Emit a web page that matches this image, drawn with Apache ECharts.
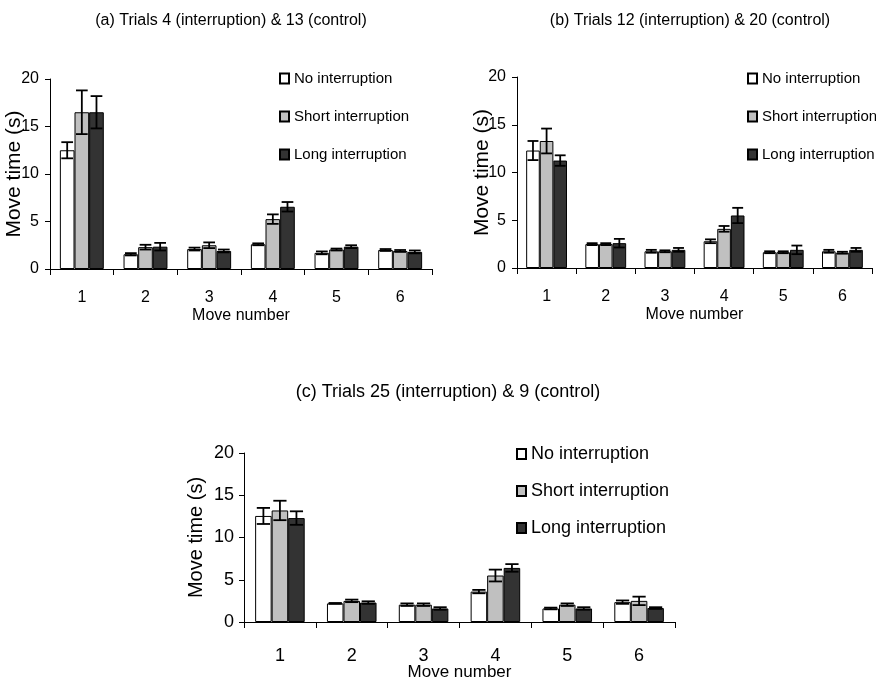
<!DOCTYPE html>
<html>
<head>
<meta charset="utf-8">
<script src="https://cdn.jsdelivr.net/npm/echarts@6/dist/echarts.min.js"></script>
<style>html,body{margin:0;padding:0;background:#fff;}#c{width:876px;height:685px;}</style>
</head>
<body>
<div id="c"></div>
<script>
const categories = ['1', '2', '3', '4', '5', '6'];
const seriesNames = ['No interruption', 'Short interruption', 'Long interruption'];
const yTicks = [0, 5, 10, 15, 20];

const titles = [
  '(a) Trials 4 (interruption) & 13 (control)',
  '(b) Trials 12 (interruption) & 20 (control)',
  '(c) Trials 25 (interruption) & 9 (control)'
];

// Panel (a)
const aNo = [12.5, 1.55, 2.1, 2.6, 1.7, 2.0];
const aNoErr = [0.85, 0.12, 0.15, 0.1, 0.15, 0.1];
const aShort = [16.5, 2.3, 2.5, 5.25, 2.05, 1.9];
const aShortErr = [2.3, 0.25, 0.3, 0.5, 0.1, 0.1];
const aLong = [16.5, 2.35, 1.9, 6.55, 2.35, 1.8];
const aLongErr = [1.7, 0.4, 0.15, 0.5, 0.15, 0.15];

// Panel (b)
const bNo = [12.3, 2.5, 1.75, 2.8, 1.65, 1.75];
const bNoErr = [1.0, 0.1, 0.15, 0.2, 0.1, 0.15];
const bShort = [13.3, 2.5, 1.75, 4.1, 1.65, 1.6];
const bShortErr = [1.3, 0.1, 0.1, 0.3, 0.1, 0.1];
const bLong = [11.25, 2.6, 1.9, 5.5, 1.9, 1.9];
const bLongErr = [0.55, 0.45, 0.2, 0.8, 0.45, 0.2];

// Panel (c)
const cNo = [12.55, 2.2, 2.05, 3.6, 1.6, 2.35];
const cNoErr = [0.95, 0.05, 0.15, 0.2, 0.1, 0.2];
const cShort = [13.2, 2.5, 2.05, 5.5, 2.05, 2.5];
const cShortErr = [1.15, 0.15, 0.15, 0.7, 0.15, 0.5];
const cLong = [12.3, 2.3, 1.6, 6.4, 1.6, 1.65];
const cLongErr = [0.8, 0.15, 0.15, 0.45, 0.15, 0.1];

const panelData = [
  [[aNo, aNoErr], [aShort, aShortErr], [aLong, aLongErr]],
  [[bNo, bNoErr], [bShort, bShortErr], [bLong, bLongErr]],
  [[cNo, cNoErr], [cShort, cShortErr], [cLong, cLongErr]]
];

const fills = ['#ffffff', '#c0c0c0', '#333333'];
const ARIAL = "'Liberation Sans',Arial,sans-serif";
const CAT_GAP = 0.31;

const layout = [
  {grid: {left: 50, top: 79, width: 382, height: 190}, fs: 16, xNameFs: 16, nameFs: 21,
   yNameGap: 25, yLabelMargin: 11, xLabelMargin: 21, xNameGap: 39, legend: {left: 274, top: 66}, legendFs: 15, legendGap: 23,
   title: {x: 231, y: 21, fs: 16}},
  {grid: {left: 517, top: 77, width: 355, height: 191}, fs: 16, xNameFs: 16, nameFs: 21,
   yNameGap: 24, yLabelMargin: 11, xLabelMargin: 21, xNameGap: 39, legend: {left: 742, top: 66}, legendFs: 15, legendGap: 23,
   title: {x: 690, y: 21, fs: 16}},
  {grid: {left: 244, top: 453, width: 431, height: 169}, fs: 18, xNameFs: 17, nameFs: 20,
   yNameGap: 38, yLabelMargin: 10, xLabelMargin: 25, xNameGap: 42, legend: {left: 511, top: 440}, legendFs: 18, legendGap: 19,
   title: {x: 448, y: 392, fs: 18}}
];

const grids = [], xAxes = [], yAxes = [], series = [], legends = [], graphics = [];

layout.forEach((L, p) => {
  grids.push(L.grid);
  xAxes.push({
    type: 'category', gridIndex: p, data: categories, boundaryGap: true,
    name: 'Move number', nameLocation: 'middle', nameGap: L.xNameGap, nameMoveOverlap: false,
    nameTextStyle: {fontFamily: ARIAL, fontSize: L.xNameFs, color: '#000'},
    axisLine: {lineStyle: {color: '#000', width: 1}},
    axisTick: {show: true, inside: false, length: 6, alignWithLabel: false, lineStyle: {color: '#000'}},
    axisLabel: {fontFamily: ARIAL, fontSize: L.fs, color: '#000', margin: L.xLabelMargin},
    splitLine: {show: false}
  });
  yAxes.push({
    type: 'value', gridIndex: p, min: yTicks[0], max: yTicks[yTicks.length - 1], interval: 5,
    name: 'Move time (s)', nameLocation: 'middle', nameGap: L.yNameGap, nameRotate: 90, nameMoveOverlap: false,
    nameTextStyle: {fontFamily: ARIAL, fontSize: L.nameFs, color: '#000'},
    axisLine: {show: true, lineStyle: {color: '#000', width: 1}},
    axisTick: {show: true, inside: false, length: 5, lineStyle: {color: '#000'}},
    axisLabel: {fontFamily: ARIAL, fontSize: L.fs, color: '#000', margin: L.yLabelMargin},
    splitLine: {show: false}
  });
  panelData[p].forEach((pair, k) => {
    series.push({
      type: 'bar', name: seriesNames[k], xAxisIndex: p, yAxisIndex: p,
      data: pair[0], barGap: '0%', barCategoryGap: (CAT_GAP * 100) + '%',
      itemStyle: {color: fills[k], borderColor: '#000', borderWidth: 1},
      emphasis: {disabled: true}, animation: false
    });
  });
  panelData[p].forEach((pair, k) => {
    series.push({
      type: 'custom', name: 'err' + p + k, xAxisIndex: p, yAxisIndex: p, z: 5,
      data: pair[0].map((v, i) => [i, v, pair[1][i]]),
      renderItem: function (params, api) {
        const i = api.value(0), v = api.value(1), e = api.value(2);
        const catW = api.size([1, 0])[0];
        const bw = catW * (1 - CAT_GAP) / 3;
        const base = api.coord([i, v]);
        const cx = base[0] + (k - 1) * bw;
        const yt = api.coord([i, v + e])[1];
        const yb = api.coord([i, v - e])[1];
        const cap = bw * 0.4;
        const st = {stroke: '#000', lineWidth: 1.8};
        return {type: 'group', children: [
          {type: 'line', shape: {x1: cx, y1: yt, x2: cx, y2: yb}, style: st},
          {type: 'line', shape: {x1: cx - cap, y1: yt, x2: cx + cap, y2: yt}, style: st},
          {type: 'line', shape: {x1: cx - cap, y1: yb, x2: cx + cap, y2: yb}, style: st}
        ]};
      },
      animation: false, silent: true
    });
  });
  legends.push({
    orient: 'vertical', left: L.legend.left, top: L.legend.top, data: seriesNames,
    icon: 'rect', itemWidth: 9, itemHeight: 10, itemGap: L.legendGap, selectedMode: false,
    textStyle: {fontFamily: ARIAL, fontSize: L.legendFs, color: '#000'}
  });
  graphics.push({
    type: 'text', x: L.title.x, y: L.title.y, silent: true,
    style: {text: titles[p], fontFamily: ARIAL, fontSize: L.title.fs, fill: '#000',
            textAlign: 'center', textVerticalAlign: 'middle'}
  });
});

const chart = echarts.init(document.getElementById('c'), null, {renderer: 'canvas'});
chart.setOption({
  backgroundColor: '#fff', animation: false,
  grid: grids, xAxis: xAxes, yAxis: yAxes, series: series, legend: legends,
  graphic: graphics
});
</script>
</body>
</html>
